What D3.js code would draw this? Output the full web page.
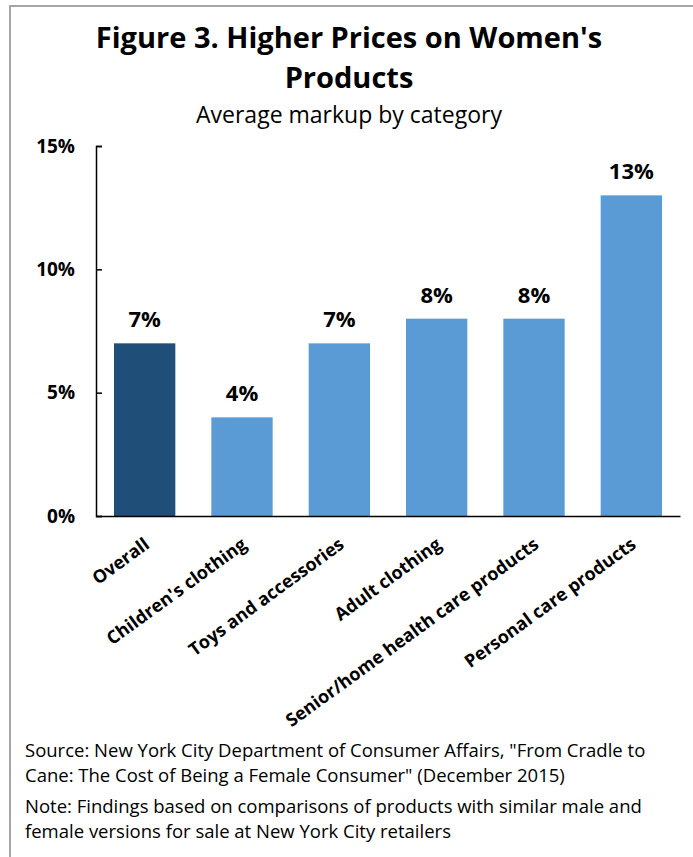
<!DOCTYPE html>
<html>
<head>
<meta charset="utf-8">
<script src="https://cdn.jsdelivr.net/npm/d3@7"></script>
<style>
  body { margin: 0; background: #fff; }
  svg { display: block; font-family: "Open Sans", sans-serif; }
</style>
</head>
<body>
<div id="chart"></div>
<script>
const width = 693, height = 857;
const font = '"Open Sans", sans-serif';

const categories = ["Overall", "Children's clothing", "Toys and accessories", "Adult clothing",
    "Senior/home health care products", "Personal care products"];
const markup = [7, 4, 7, 8, 8, 13];
const yTicks = [0, 5, 10, 15];
const titleLines = ["Figure 3. Higher Prices on Women's", "Products"];
const subtitle = "Average markup by category";
const footLines = [
    "Source: New York City Department of Consumer Affairs, \"From Cradle to",
    "Cane: The Cost of Being a Female Consumer\" (December 2015)",
    "Note: Findings based on comparisons of products with similar male and",
    "female versions for sale at New York City retailers"
];

const svg = d3.select("#chart")
    .append("svg")
    .attr("width", width)
    .attr("height", height);

// frame (only top and left edges show in the picture)
svg.append("path")
    .attr("d", `M10,${height} L10,6 L${width},6`)
    .attr("fill", "none")
    .attr("stroke", "#a6a6a6")
    .attr("stroke-width", 2);

svg.selectAll(".title")
    .data(titleLines)
    .join("text")
    .attr("class", "title")
    .attr("x", 349)
    .attr("y", (d, i) => 48 + i * 40)
    .attr("text-anchor", "middle")
    .attr("font-size", 29)
    .attr("font-weight", "bold")
    .attr("fill", "#000")
    .text(d => d);

svg.append("text")
    .attr("x", 349)
    .attr("y", 123)
    .attr("text-anchor", "middle")
    .attr("font-size", 23)
    .attr("fill", "#000")
    .text(subtitle);

const x = d3.scaleBand()
    .domain(categories)
    .range([96, 680])
    .paddingInner(0.37)
    .paddingOuter(0.185);

const y = d3.scaleLinear()
    .domain([0, 15])
    .range([516, 146]);

svg.selectAll(".bar")
    .data(markup)
    .join("rect")
    .attr("class", "bar")
    .attr("x", (d, i) => x(categories[i]))
    .attr("y", d => y(d))
    .attr("width", x.bandwidth())
    .attr("height", d => y(0) - y(d))
    .attr("fill", (d, i) => i === 0 ? "#1f4e79" : "#5b9bd5");

svg.selectAll(".val")
    .data(markup)
    .join("text")
    .attr("class", "val")
    .attr("x", (d, i) => x(categories[i]) + x.bandwidth() / 2)
    .attr("y", d => y(d) - 16)
    .attr("text-anchor", "middle")
    .attr("font-size", 22)
    .attr("font-weight", "bold")
    .text(d => d + "%");

const yAxis = svg.append("g")
    .attr("transform", "translate(96,0)")
    .call(d3.axisRight(y).tickValues(yTicks).tickSize(6).tickFormat(d => d + "%"));
yAxis.select(".domain").attr("stroke", "#000").attr("stroke-width", 1.5);
yAxis.selectAll(".tick line").attr("stroke", "#000").attr("stroke-width", 1.5);
yAxis.selectAll(".tick text")
    .attr("x", -21)
    .attr("text-anchor", "end")
    .attr("font-family", font)
    .attr("font-size", 19)
    .attr("font-weight", "bold")
    .attr("fill", "#000");

const xAxis = svg.append("g")
    .attr("transform", "translate(0,516)")
    .call(d3.axisBottom(x).tickSize(0).tickSizeOuter(0));
xAxis.select(".domain").attr("stroke", "#000").attr("stroke-width", 1.5);
xAxis.selectAll(".tick text")
    .attr("font-family", font)
    .attr("font-size", 18)
    .attr("font-weight", "bold")
    .attr("fill", "#000")
    .attr("text-anchor", "end")
    .attr("dy", 0)
    .attr("y", 0)
    .attr("transform", "translate(6,31) rotate(-36)");

svg.selectAll(".foot")
    .data(footLines)
    .join("text")
    .attr("class", "foot")
    .attr("x", 25)
    .attr("y", (d, i) => 757 + i * 25 + (i > 1 ? 6 : 0))
    .attr("font-size", 18.5)
    .attr("fill", "#000")
    .text(d => d);
</script>
</body>
</html>
